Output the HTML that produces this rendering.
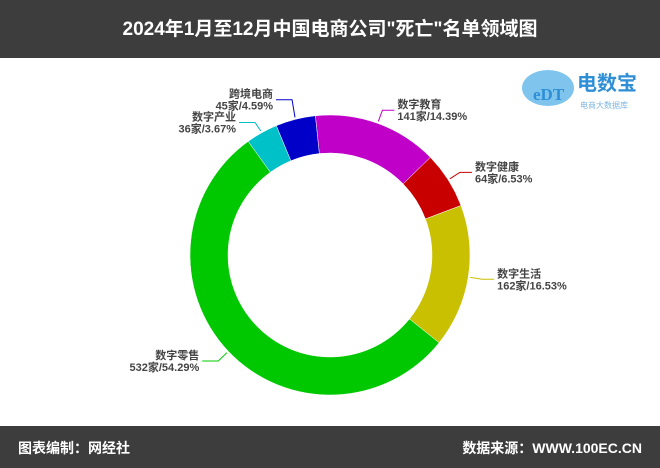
<!DOCTYPE html>
<html><head><meta charset="utf-8"><style>
body{margin:0;width:660px;height:468px;overflow:hidden;background:#fff;font-family:"Liberation Sans","Noto Sans CJK SC",sans-serif}
#hdr{position:absolute;left:0;top:0;width:660px;height:58px;background:#3d3d3d;color:#fff;font-weight:bold;font-size:19px;text-align:center;line-height:60px}
#ftr{position:absolute;left:0;top:426px;width:660px;height:42px;background:#3d3d3d;color:#fff;font-weight:bold;font-size:14px}
</style></head><body>
<div id="hdr">2024年1月至12月中国电商公司"死亡"名单领域图</div>
<svg id="c" width="660" height="468" style="position:absolute;left:0;top:0">
<g>
<ellipse cx="548" cy="88" rx="26" ry="18" fill="#7fc4ec"/>
<text x="533" y="100" font-size="17" fill="#2e8fd6" font-weight="bold" font-family="Liberation Serif,serif">eDT</text>
<text x="577" y="90" font-size="20" fill="#2e8fd6" font-weight="bold">电数宝</text>
<text x="580" y="108" font-size="8" fill="#7fb6e0">电商大数据库</text>
</g>
</svg>
<div id="ftr"><span style="position:absolute;left:18px;top:12px">图表编制：网经社</span><span style="position:absolute;right:18px;top:12px">数据来源：WWW.100EC.CN</span></div>
<script>
const categories=["数字教育","数字健康","数字生活","数字零售","数字产业","跨境电商"];
const counts=[141,64,162,532,36,45];
const percents=["14.39%","6.53%","16.53%","54.29%","3.67%","4.59%"];
const colors=["#c000c8","#c80000","#c8c000","#00c800","#00c0c8","#0000c8"];
const cx=330,cy=255,R=140,r=102,start=-6;
const elbowDy=[0,0,0,0,2,-6];
const svg=document.getElementById('c'),NS="http://www.w3.org/2000/svg";
const total=counts.reduce((a,b)=>a+b,0);
function pt(deg,rad){const a=(deg-90)*Math.PI/180;return[cx+rad*Math.cos(a),cy+rad*Math.sin(a)];}
let ang=start;
counts.forEach((v,i)=>{
 const sw=v/total*360,a0=ang,a1=ang+sw;ang=a1;
 const [x0,y0]=pt(a0,R),[x1,y1]=pt(a1,R),[x2,y2]=pt(a1,r),[x3,y3]=pt(a0,r);
 const lg=sw>180?1:0;
 const p=document.createElementNS(NS,'path');
 p.setAttribute('d',`M${x0},${y0}A${R},${R} 0 ${lg} 1 ${x1},${y1}L${x2},${y2}A${r},${r} 0 ${lg} 0 ${x3},${y3}Z`);
 p.setAttribute('fill',colors[i]);p.setAttribute('stroke','#fff');p.setAttribute('stroke-width','0.5');
 
 
 svg.appendChild(p);
 const mid=(a0+a1)/2,[lx,ly]=pt(mid,R+2);
 let [ex,ey]=pt(mid,R+14);ey+=elbowDy[i];
 const right=Math.sin(mid*Math.PI/180)>=0;
 const hx=ex+(right?12:-16);
 const l=document.createElementNS(NS,'polyline');
 l.setAttribute('points',`${lx},${ly} ${ex},${ey} ${hx},${ey}`);
 l.setAttribute('fill','none');l.setAttribute('stroke',colors[i]);
 
 
 svg.appendChild(l);
 const t=document.createElementNS(NS,'text');
 const tx=hx+(right?3:-3);
 t.setAttribute('x',tx);t.setAttribute('y',ey-2);
 t.setAttribute('text-anchor',right?'start':'end');
 t.setAttribute('font-size','11');t.setAttribute('fill','#444');t.setAttribute('font-weight','bold');
 
 
 const s1=document.createElementNS(NS,'tspan');s1.setAttribute('x',tx);s1.textContent=categories[i];
 const s2=document.createElementNS(NS,'tspan');s2.setAttribute('x',tx);s2.setAttribute('dy','12');s2.textContent=counts[i]+'家/'+percents[i];
 t.appendChild(s1);t.appendChild(s2);svg.appendChild(t);
});
</script>
</body></html>
